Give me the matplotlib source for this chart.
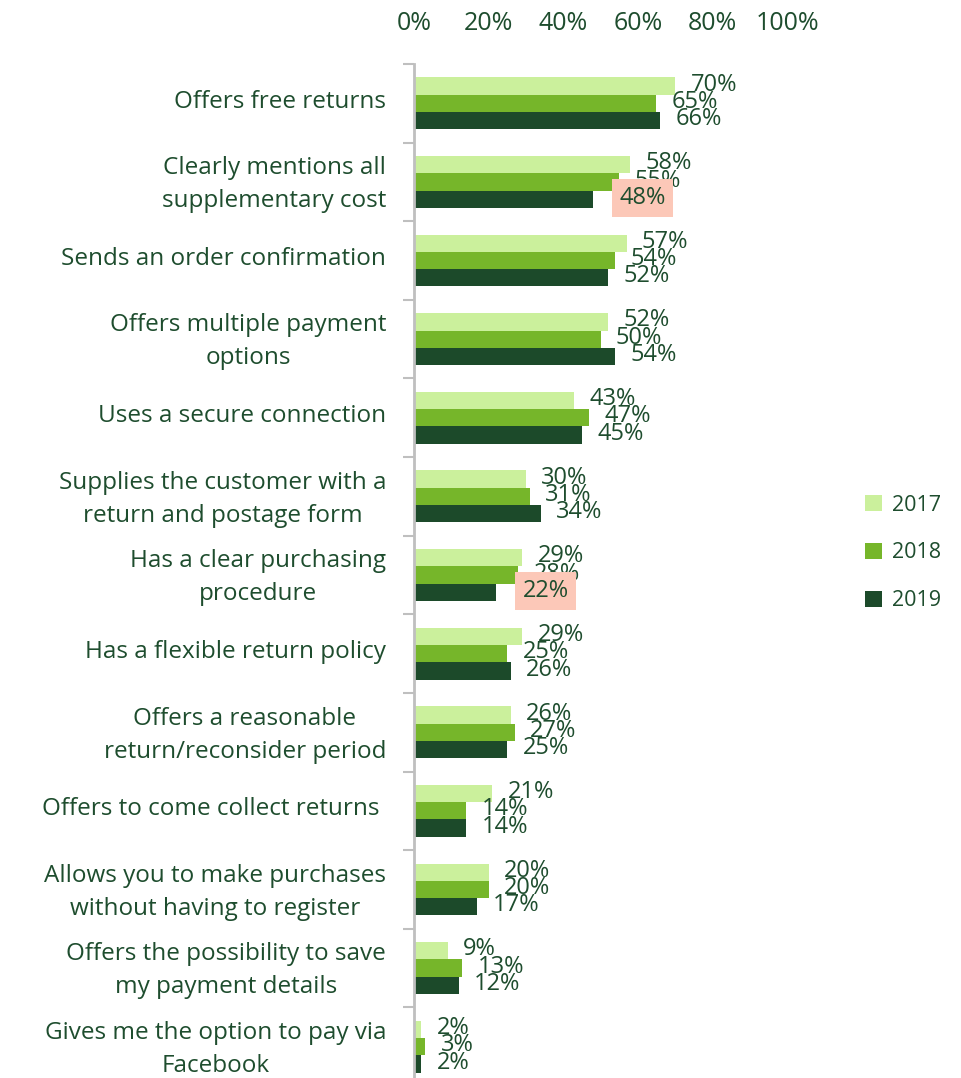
import numpy as np
import matplotlib.pyplot as plt
from matplotlib.patches import Patch

plt.rcParams['font.family'] = ['Open Sans', 'DejaVu Sans']

# data
categories = [
    "Offers free returns",
    "Clearly mentions all\nsupplementary cost",
    "Sends an order confirmation",
    "Offers multiple payment\noptions",
    "Uses a secure connection",
    "Supplies the customer with a\nreturn and postage form",
    "Has a clear purchasing\nprocedure",
    "Has a flexible return policy",
    "Offers a reasonable\nreturn/reconsider period",
    "Offers to come collect returns ",
    "Allows you to make purchases\nwithout having to register",
    "Offers the possibility to save\nmy payment details",
    "Gives me the option to pay via\nFacebook",
]
years = ["2017", "2018", "2019"]
v2017 = [70, 58, 57, 52, 43, 30, 29, 29, 26, 21, 20, 9, 2]
v2018 = [65, 55, 54, 50, 47, 31, 28, 25, 27, 14, 20, 13, 3]
v2019 = [66, 48, 52, 54, 45, 34, 22, 26, 25, 14, 17, 12, 2]
highlight_2019 = [1, 6]  # categories whose 2019 label is highlighted
xticks = [0, 20, 40, 60, 80, 100]

colors = ["#cbf09c", "#76b62a", "#1c4a2a"]
text_color = "#1e4d2e"

fig = plt.figure(figsize=(9.61, 10.78), dpi=100)
ax = fig.add_axes([414 / 961, -8 / 1078, 373 / 961, 1022 / 1078])

y = np.arange(len(categories))
h = 0.22
series = [v2017, v2018, v2019]
for i, (vals, c) in enumerate(zip(series, colors)):
    pos = y + (i - 1) * h
    ax.barh(pos, vals, height=h, color=c, zorder=2)
    for j, (p, v) in enumerate(zip(pos, vals)):
        if i == 2 and j in highlight_2019:
            ax.annotate(f"{v}%", (v, p), xytext=(19, 1), textcoords="offset points",
                        ha="left", va="center", fontsize=17, color=text_color, zorder=5,
                        bbox=dict(boxstyle="square,pad=0.3", fc="#fcc8b8", ec="none"))
        else:
            ax.annotate(f"{v}%", (v, p), xytext=(11, 1), textcoords="offset points",
                        ha="left", va="center", fontsize=17, color=text_color, zorder=3)

ax.set_xlim(0, 100)
ax.set_ylim(len(categories) - 0.5, -0.5)
ax.xaxis.tick_top()
ax.set_xticks(xticks)
ax.set_xticklabels([f"{t}%" for t in xticks], fontsize=18, color=text_color)
ax.tick_params(axis="x", length=0, pad=20)

# category labels sit slightly above the group centre
ax.set_yticks(y - 0.06)
ax.set_yticklabels(categories, fontsize=17.5, color=text_color, linespacing=1.5,
                   multialignment="center")
ax.tick_params(axis="y", which="major", length=0, pad=20)
ax.set_yticks(np.arange(-0.5, len(categories), 1), minor=True)
ax.tick_params(axis="y", which="minor", length=8, width=1.5, color="#bfbfbf", direction="out")

for s in ["top", "right", "bottom"]:
    ax.spines[s].set_visible(False)
ax.spines["left"].set_color("#bfbfbf")
ax.spines["left"].set_linewidth(2)

handles = [Patch(facecolor=c, edgecolor="none", label=yr) for c, yr in zip(colors, years)]
leg = fig.legend(handles=handles, loc="center left", bbox_to_anchor=(846 / 961, 1 - 553 / 1078),
                 frameon=False, fontsize=15.5, handlelength=0.75, handleheight=0.75,
                 handletextpad=0.5, labelspacing=1.25)
for t in leg.get_texts():
    t.set_color(text_color)

fig.savefig("out.png", dpi=100)
